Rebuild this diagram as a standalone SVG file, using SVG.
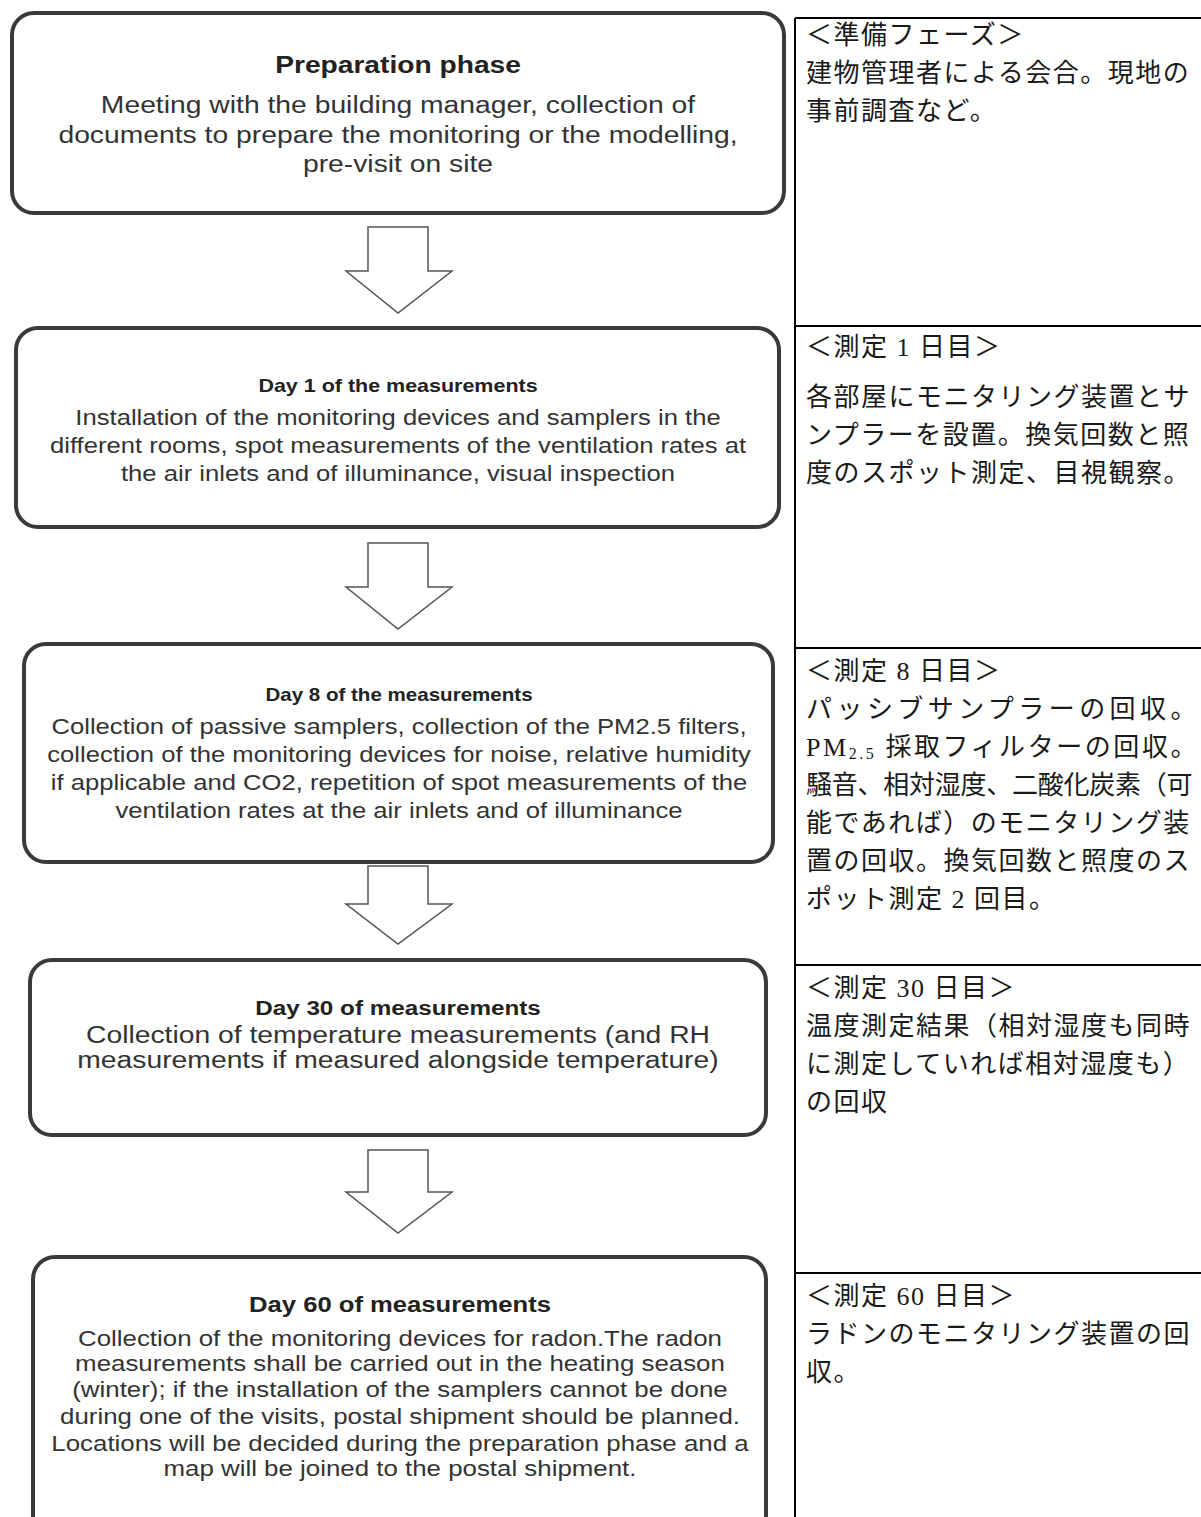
<svg xmlns="http://www.w3.org/2000/svg" width="1201" height="1517" viewBox="0 0 1201 1517">
<style>
.box{fill:#fff;stroke:#3a3a3a;stroke-width:4}
.arrow{fill:#fff;stroke:#555;stroke-width:1.5;stroke-linejoin:miter}
.t{font-family:"Liberation Sans",Arial,sans-serif;fill:#333;text-anchor:middle}
.tb{font-family:"Liberation Sans",Arial,sans-serif;font-weight:bold;fill:#222;text-anchor:middle}
.jp{font-family:"Liberation Serif","Noto Sans CJK JP",serif;font-size:26px;letter-spacing:1.5px;fill:#1a1a1a}
.grid{stroke:#000;stroke-width:2;fill:none}
</style>
<rect width="1201" height="1517" fill="#fff"/>

<g id="connectors">
<polygon class="arrow" points="368,227 428,227 428,271 452,271 398,313 346,271 368,271"/>
<polygon class="arrow" points="368,543 428,543 428,587 452,587 398,629 346,587 368,587"/>
<polygon class="arrow" points="368,866 428,866 428,904 452,904 398,944 346,904 368,904"/>
<polygon class="arrow" points="368,1150 428,1150 428,1192 452,1192 398,1233 346,1192 368,1192"/>
</g>

<g id="node-preparation">
<rect class="box" x="12" y="13" width="772" height="200" rx="22"/>
<g transform="translate(398,0) scale(1.155,1)">
<text class="tb" x="0" y="73" font-size="24.4">Preparation phase</text>
<text class="t" x="0" y="113" font-size="24.5">Meeting with the building manager, collection of</text>
<text class="t" x="0" y="143" font-size="24.5">documents to prepare the monitoring or the modelling,</text>
<text class="t" x="0" y="172" font-size="24.5">pre-visit on site</text>
</g>
</g>

<g id="node-day1">
<rect class="box" x="16" y="328" width="763" height="199" rx="22"/>
<g transform="translate(398,0) scale(1.155,1)">
<text class="tb" x="0" y="392" font-size="18.6">Day 1 of the measurements</text>
<text class="t" x="0" y="425" font-size="22.2">Installation of the monitoring devices and samplers in the</text>
<text class="t" x="0" y="453" font-size="22.2">different rooms, spot measurements of the ventilation rates at</text>
<text class="t" x="0" y="481" font-size="22.2">the air inlets and of illuminance, visual inspection</text>
</g>
</g>

<g id="node-day8">
<rect class="box" x="24" y="644" width="749" height="218" rx="22"/>
<g transform="translate(399,0) scale(1.155,1)">
<text class="tb" x="0" y="701" font-size="17.8">Day 8 of the measurements</text>
<text class="t" x="0" y="734" font-size="22.2">Collection of passive samplers, collection of the PM2.5 filters,</text>
<text class="t" x="0" y="762" font-size="22.2">collection of the monitoring devices for noise, relative humidity</text>
<text class="t" x="0" y="790" font-size="22.2">if applicable and CO2, repetition of spot measurements of the</text>
<text class="t" x="0" y="818" font-size="22.2">ventilation rates at the air inlets and of illuminance</text>
</g>
</g>

<g id="node-day30">
<rect class="box" x="30" y="960" width="736" height="175" rx="22"/>
<g transform="translate(398,0) scale(1.155,1)">
<text class="tb" x="0" y="1015" font-size="21">Day 30 of measurements</text>
<text class="t" x="0" y="1043" font-size="24.5">Collection of temperature measurements (and RH</text>
<text class="t" x="0" y="1068" font-size="24.5">measurements if measured alongside temperature)</text>
</g>
</g>

<g id="node-day60">
<rect class="box" x="33" y="1257" width="733" height="280" rx="22"/>
<g transform="translate(400,0) scale(1.155,1)">
<text class="tb" x="0" y="1312" font-size="22.2">Day 60 of measurements</text>
<text class="t" x="0" y="1346" font-size="22.4">Collection of the monitoring devices for radon.The radon</text>
<text class="t" x="0" y="1371" font-size="22.4">measurements shall be carried out in the heating season</text>
<text class="t" x="0" y="1397" font-size="22.4">(winter); if the installation of the samplers cannot be done</text>
<text class="t" x="0" y="1424" font-size="22.4">during one of the visits, postal shipment should be planned.</text>
<text class="t" x="0" y="1451" font-size="22.4">Locations will be decided during the preparation phase and a</text>
<text class="t" x="0" y="1476" font-size="22.4">map will be joined to the postal shipment.</text>
</g>
</g>

<g id="table">
<line class="grid" x1="795" y1="18" x2="795" y2="1517"/>
<line class="grid" x1="795" y1="18" x2="1201" y2="18"/>
<line class="grid" x1="795" y1="326" x2="1201" y2="326"/>
<line class="grid" x1="795" y1="648" x2="1201" y2="648"/>
<line class="grid" x1="795" y1="965" x2="1201" y2="965"/>
<line class="grid" x1="795" y1="1273" x2="1201" y2="1273"/>
</g>

<g id="note-preparation">
<text class="jp" x="806" y="44">＜準備フェーズ＞</text>
<text class="jp" x="806" y="82">建物管理者による会合。現地の</text>
<text class="jp" x="806" y="120">事前調査など。</text>
</g>

<g id="note-day1">
<text class="jp" x="806" y="356">＜測定 1 日目＞</text>
<text class="jp" x="806" y="406">各部屋にモニタリング装置とサ</text>
<text class="jp" x="806" y="444">ンプラーを設置。換気回数と照</text>
<text class="jp" x="806" y="482">度のスポット測定、目視観察。</text>
</g>

<g id="note-day8">
<text class="jp" x="806" y="680">＜測定 8 日目＞</text>
<text class="jp" x="806" y="718" textLength="392">パッシブサンプラーの回収。</text>
<text class="jp" x="806" y="756" textLength="392">PM<tspan font-size="16" dy="3">2.5</tspan><tspan dy="-3"> 採取フィルターの回収。</tspan></text>
<text class="jp" x="806" y="794" textLength="388">騒音、相対湿度、二酸化炭素（可</text>
<text class="jp" x="806" y="832">能であれば）のモニタリング装</text>
<text class="jp" x="806" y="870">置の回収。換気回数と照度のス</text>
<text class="jp" x="806" y="908">ポット測定 2 回目。</text>
</g>

<g id="note-day30">
<text class="jp" x="806" y="997">＜測定 30 日目＞</text>
<text class="jp" x="806" y="1035">温度測定結果（相対湿度も同時</text>
<text class="jp" x="806" y="1073">に測定していれば相対湿度も）</text>
<text class="jp" x="806" y="1111">の回収</text>
</g>

<g id="note-day60">
<text class="jp" x="806" y="1305">＜測定 60 日目＞</text>
<text class="jp" x="806" y="1343">ラドンのモニタリング装置の回</text>
<text class="jp" x="806" y="1381">収。</text>
</g>
</svg>
